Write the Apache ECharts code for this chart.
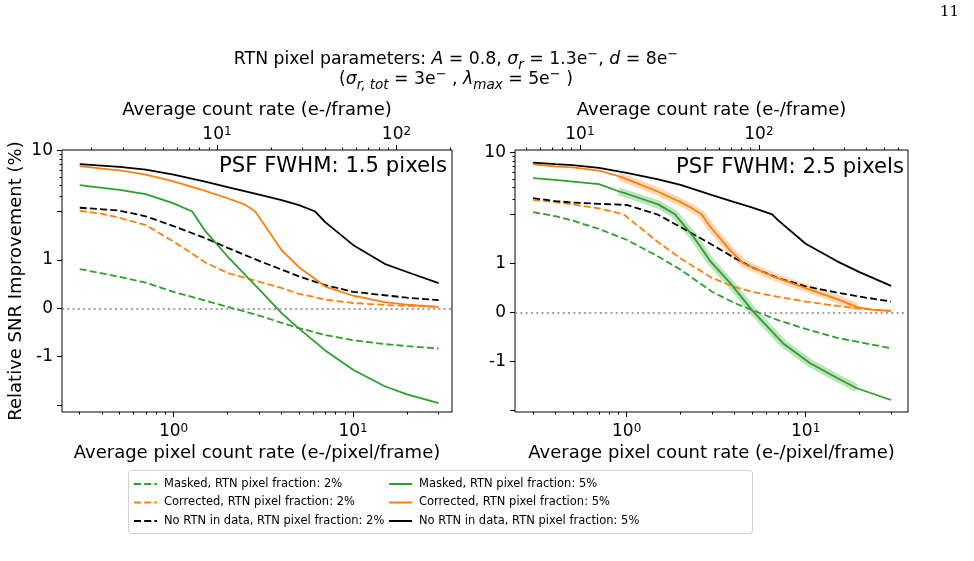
<!DOCTYPE html>
<html>
<head>
<meta charset="utf-8">
<title>RTN pixel parameters</title>
<script src="https://cdn.jsdelivr.net/npm/echarts@6.0.0/dist/echarts.min.js"></script>
<style>
  html, body { margin: 0; padding: 0; background: #fff; }
  #chart { width: 974px; height: 561px; }
</style>
</head>
<body>
<div id="chart"></div>
<script>
// [pixel count rate (e-/pixel/frame), relative SNR improvement (%)]
// left panel: PSF FWHM 1.5 pixels
const left_masked_2 = [[0.3, 0.81], [0.4, 0.72], [0.5, 0.65], [0.7, 0.53], [1, 0.34], [1.5, 0.16], [2, 0.03], [3, -0.15], [4, -0.3], [5, -0.41], [7, -0.55], [10, -0.66], [15, -0.74], [20, -0.78], [30, -0.83]];
const left_corr_2 = [[0.3, 2.04], [0.4, 1.95], [0.5, 1.87], [0.7, 1.72], [1, 1.38], [1.5, 0.95], [2, 0.73], [3, 0.55], [4, 0.42], [5, 0.3], [7, 0.18], [10, 0.11], [15, 0.07], [20, 0.05], [30, 0.03]];
const left_nortn_2 = [[0.3, 2.21], [0.4, 2.12], [0.5, 2.05], [0.7, 1.9], [1, 1.7], [1.5, 1.45], [2, 1.25], [3, 0.98], [4, 0.8], [5, 0.66], [7, 0.48], [10, 0.34], [15, 0.27], [20, 0.22], [30, 0.17]];
const left_masked_5 = [[0.3, 4.03], [0.4, 3.74], [0.5, 3.54], [0.7, 3.17], [1, 2.48], [1.27, 2.0], [1.5, 1.6], [2, 1.07], [3, 0.39], [4, -0.1], [5, -0.42], [7, -0.87], [10, -1.27], [15, -1.61], [20, -1.78], [30, -1.96]];
const left_corr_5 = [[0.3, 6.65], [0.4, 6.2], [0.5, 5.95], [0.7, 5.3], [1, 4.45], [1.5, 3.46], [2, 2.84], [2.5, 2.4], [2.85, 2.0], [3, 1.88], [4, 1.2], [5, 0.85], [7, 0.45], [10, 0.26], [15, 0.13], [20, 0.075], [30, 0.03]];
const left_nortn_5 = [[0.3, 7.0], [0.5, 6.52], [0.7, 6.05], [1, 5.3], [1.5, 4.4], [2, 3.82], [3, 3.13], [4, 2.71], [5, 2.37], [6.16, 2.0], [7, 1.78], [10, 1.31], [15, 0.92], [20, 0.75], [30, 0.52]];
// right panel: PSF FWHM 2.5 pixels
const right_masked_2 = [[0.3, 2.12], [0.4, 1.96], [0.5, 1.87], [0.7, 1.7], [1, 1.48], [1.5, 1.14], [2, 0.87], [3, 0.42], [4, 0.19], [5, 0.05], [7, -0.16], [10, -0.34], [15, -0.52], [20, -0.61], [30, -0.735]];
const right_corr_2 = [[0.3, 2.9], [0.4, 2.75], [0.5, 2.58], [0.7, 2.33], [0.96, 2.0], [1.5, 1.43], [2, 1.1], [3, 0.7], [4, 0.52], [5, 0.42], [7, 0.315], [10, 0.22], [15, 0.13], [20, 0.075], [30, 0.027]];
const right_nortn_2 = [[0.3, 3.05], [0.4, 2.82], [0.5, 2.72], [0.7, 2.63], [1, 2.55], [1.48, 2.0], [2, 1.74], [3, 1.38], [4, 1.11], [5, 0.92], [7, 0.7], [10, 0.53], [15, 0.4], [20, 0.32], [30, 0.22]];
const right_masked_5 = [[0.3, 5.15], [0.4, 4.9], [0.5, 4.7], [0.7, 4.4], [0.9, 3.65], [1, 3.42], [1.5, 2.59], [1.86, 2.0], [2.35, 1.55], [2.92, 1.05], [3.78, 0.6], [5.08, 0.02], [7.46, -0.63], [10.6, -1.04], [15, -1.34], [19.3, -1.55], [30, -1.79]];
const right_corr_5 = [[0.3, 7.35], [0.4, 7.0], [0.5, 6.8], [0.7, 6.25], [0.9, 5.4], [1, 5.0], [1.5, 3.6], [2, 2.75], [2.3, 2.36], [2.62, 2.0], [2.92, 1.75], [3.78, 1.27], [4.48, 1.0], [6.59, 0.73], [10.1, 0.49], [15.5, 0.25], [19.2, 0.11], [23.9, 0.05], [30, 0.03]];
const right_nortn_5 = [[0.3, 7.7], [0.4, 7.4], [0.5, 7.2], [0.7, 6.7], [1, 5.9], [1.5, 4.97], [2, 4.3], [3, 3.3], [4, 2.75], [5, 2.39], [6.5, 2.0], [7, 1.88], [10, 1.4], [15, 1.04], [20, 0.82], [30, 0.54]];
// range of the shaded uncertainty band (right panel, 5% curves)
const bandRange = [0.9, 19.3];

const seriesNames = [
  'Masked, RTN pixel fraction: 2%',
  'Corrected, RTN pixel fraction: 2%',
  'No RTN in data, RTN pixel fraction: 2%',
  'Masked, RTN pixel fraction: 5%',
  'Corrected, RTN pixel fraction: 5%',
  'No RTN in data, RTN pixel fraction: 5%'
];
const panelTitles = ['PSF FWHM: 1.5 pixels', 'PSF FWHM: 2.5 pixels'];
const xLimits = [[0.239, 35.6], [0.2377, 37.3]];
const yLimits = [[-2.40, 10.17], [-2.09, 10.71]];
const topFactors = [5.727, 18.25];   // (e-/frame) per (e-/pixel/frame)
const yMajorTicks = [-2, -1, 0, 1, 2, 10];
const yTickLabels = [-1, 0, 1, 10];
const yMinorTicks = [3, 4, 5, 6, 7, 8, 9];

const F = 'DejaVu Sans';
const GREEN = '#2ca02c', ORANGE = '#ff7f0e', BLACK = '#000000';
const DASH = [7, 3.2];

// matplotlib symlog, linthresh 2, linscale 1
const LINTHRESH = 2, LOGSCALE = 1.8;
const symlog = v => {
  const a = Math.abs(v);
  return a <= LINTHRESH ? v : Math.sign(v) * (LINTHRESH + LOGSCALE * Math.log10(a / LINTHRESH));
};
const unsymlog = t => {
  const a = Math.abs(t);
  return a <= LINTHRESH ? t : Math.sign(t) * LINTHRESH * Math.pow(10, (a - LINTHRESH) / LOGSCALE);
};

const grids = [
  { left: 62, top: 150, width: 390, height: 262 },
  { left: 515, top: 150, width: 393, height: 262 }
].map(g => Object.assign(g, { show: true, borderColor: '#000', borderWidth: 1, backgroundColor: 'transparent' }));

const inRange = (v, lo, hi) => v >= lo - 1e-9 && v <= hi + 1e-9;
const decadeTicks = (lo, hi) => [-1, 0, 1, 2, 3].filter(d => inRange(d, lo, hi));
const minorLogTicks = (lo, hi) => {
  const out = [];
  [-1, 0, 1, 2].forEach(d => { for (let k = 2; k <= 9; k++) out.push(d + Math.log10(k)); });
  return out.filter(v => inRange(v, lo, hi));
};

const supRich = {
  b: { fontFamily: F, fontSize: 17, color: '#000', lineHeight: 21, verticalAlign: 'bottom' },
  s: { fontFamily: F, fontSize: 12, color: '#000', lineHeight: 21, verticalAlign: 'bottom', padding: [0, 0, 5, 0] }
};
const powLabel = v => '{b|10}{s|' + Math.round(v) + '}';
const nameStyle = { fontFamily: F, fontSize: 18, color: '#000' };
const tickLine = { color: '#000', width: 1 };

const xAxes = [], yAxes = [];
[0, 1].forEach(gi => {
  const lo = Math.log10(xLimits[gi][0]), hi = Math.log10(xLimits[gi][1]);
  const sh = Math.log10(topFactors[gi]);
  const base = () => ({ gridIndex: gi, type: 'value', axisLine: { show: false, onZero: false }, splitLine: { show: false } });
  xAxes.push(Object.assign(base(), {
    position: 'bottom', min: lo, max: hi,
    axisTick: { length: 5, customValues: decadeTicks(lo, hi), lineStyle: tickLine },
    axisLabel: { customValues: decadeTicks(lo, hi), formatter: powLabel, rich: supRich, margin: 7 },
    name: 'Average pixel count rate (e-/pixel/frame)', nameLocation: 'middle', nameGap: 32, nameTextStyle: nameStyle
  }));
  xAxes.push(Object.assign(base(), {
    position: 'bottom', min: lo, max: hi,
    axisTick: { length: 2.5, customValues: minorLogTicks(lo, hi), lineStyle: tickLine },
    axisLabel: { show: false }
  }));
  xAxes.push(Object.assign(base(), {
    position: 'top', min: lo + sh, max: hi + sh,
    axisTick: { length: 5, customValues: decadeTicks(lo + sh, hi + sh), lineStyle: tickLine },
    axisLabel: { customValues: decadeTicks(lo + sh, hi + sh), formatter: powLabel, rich: supRich, margin: 7 },
    name: 'Average count rate (e-/frame)', nameLocation: 'middle', nameGap: 31, nameTextStyle: nameStyle
  }));
  xAxes.push(Object.assign(base(), {
    position: 'top', min: lo + sh, max: hi + sh,
    axisTick: { length: 2.5, customValues: minorLogTicks(lo + sh, hi + sh), lineStyle: tickLine },
    axisLabel: { show: false }
  }));

  const ylo = symlog(yLimits[gi][0]), yhi = symlog(yLimits[gi][1]);
  const yMain = Object.assign(base(), {
    position: 'left', min: ylo, max: yhi,
    axisTick: { length: 5, customValues: yMajorTicks.map(symlog), lineStyle: tickLine },
    axisLabel: {
      customValues: yTickLabels.map(symlog), margin: 9,
      formatter: v => String(Math.round(unsymlog(v))),
      fontFamily: F, fontSize: 17, color: '#000'
    }
  });
  if (gi === 0) {
    Object.assign(yMain, {
      name: 'Relative SNR Improvement (%)', nameLocation: 'middle', nameRotate: 90,
      nameGap: 37, nameTextStyle: nameStyle
    });
  }
  yAxes.push(yMain);
  yAxes.push(Object.assign(base(), {
    position: 'left', min: ylo, max: yhi,
    axisTick: { length: 2.5, customValues: yMinorTicks.map(symlog), lineStyle: tickLine },
    axisLabel: { show: false }
  }));
});

const toXY = pts => pts.map(([x, y]) => [Math.log10(x), symlog(y)]);

function curve(name, pts, gi, color, dashed) {
  return {
    name: name, type: 'line', xAxisIndex: gi * 4, yAxisIndex: gi * 2,
    data: toXY(pts), symbol: 'none', z: 3, clip: true,
    lineStyle: { color: color, width: 1.8, type: dashed ? DASH : 'solid', cap: 'butt' },
    itemStyle: { color: color }
  };
}
function band(pts, gi, color) {
  const sub = pts.filter(p => p[0] >= bandRange[0] && p[0] <= bandRange[1]);
  return {
    name: 'band', type: 'line', xAxisIndex: gi * 4, yAxisIndex: gi * 2,
    data: toXY(sub), symbol: 'none', z: 2, silent: true,
    lineStyle: { color: color, width: 8, opacity: 0.3, cap: 'butt', join: 'round' }
  };
}
function zeroLine(gi) {
  return {
    name: 'zero', type: 'line', xAxisIndex: gi * 4, yAxisIndex: gi * 2, data: [], z: 1,
    markLine: {
      silent: true, symbol: 'none', label: { show: false },
      lineStyle: { color: '#808080', type: [2, 3.3], width: 1.6 },
      data: [{ yAxis: 0 }]
    }
  };
}

const series = [
  zeroLine(0),
  curve(seriesNames[0], left_masked_2, 0, GREEN, true),
  curve(seriesNames[1], left_corr_2, 0, ORANGE, true),
  curve(seriesNames[2], left_nortn_2, 0, BLACK, true),
  curve(seriesNames[3], left_masked_5, 0, GREEN, false),
  curve(seriesNames[4], left_corr_5, 0, ORANGE, false),
  curve(seriesNames[5], left_nortn_5, 0, BLACK, false),
  zeroLine(1),
  band(right_masked_5, 1, GREEN),
  band(right_corr_5, 1, ORANGE),
  curve(seriesNames[0], right_masked_2, 1, GREEN, true),
  curve(seriesNames[1], right_corr_2, 1, ORANGE, true),
  curve(seriesNames[2], right_nortn_2, 1, BLACK, true),
  curve(seriesNames[3], right_masked_5, 1, GREEN, false),
  curve(seriesNames[4], right_corr_5, 1, ORANGE, false),
  curve(seriesNames[5], right_nortn_5, 1, BLACK, false)
];

const TS = 17.3;
const titleRich = {
  i: { fontFamily: F, fontSize: TS, fontStyle: 'italic', color: '#000', lineHeight: 24 },
  sub: { fontFamily: F, fontSize: 13.5, fontStyle: 'italic', color: '#000', lineHeight: 15, verticalAlign: 'bottom' },
  sup: { fontFamily: F, fontSize: 13, color: '#000', lineHeight: 14, verticalAlign: 'top' }
};
const titleText = { fontFamily: F, fontSize: TS, fontWeight: 'normal', color: '#000', lineHeight: 24, rich: titleRich };
const psfText = { fontFamily: F, fontSize: 21.2, fontWeight: 'normal', color: '#000', lineHeight: 24 };

const legendBase = {
  orient: 'vertical', top: 477, padding: 0, itemWidth: 23, itemHeight: 14, itemGap: 4.5,
  selectedMode: false, itemStyle: { opacity: 0 },
  textStyle: { fontFamily: F, fontSize: 11.5, color: '#000', lineHeight: 14, padding: [0, 0, 0, 2] }
};

const chart = echarts.init(document.getElementById('chart'), null, { renderer: 'canvas' });
chart.setOption({
  animation: false,
  backgroundColor: '#fff',
  title: [
    { text: '11', left: 940, top: 5, padding: 0, textStyle: { fontFamily: 'DejaVu Serif', fontSize: 15, fontWeight: 'normal', color: '#000' } },
    { text: 'RTN pixel parameters: {i|A} = 0.8, {i|σ}{sub|r} = 1.3e{sup|−}, {i|d} = 8e{sup|−}', left: 456, textAlign: 'center', top: 48, padding: 0, textStyle: titleText },
    { text: '({i|σ}{sub|r, tot} = 3e{sup|−} , {i|λ}{sub|max} = 5e{sup|−} )', left: 456, textAlign: 'center', top: 68, padding: 0, textStyle: titleText },
    { text: panelTitles[0], right: 527, top: 154, padding: 0, textStyle: psfText },
    { text: panelTitles[1], right: 70, top: 155, padding: 0, textStyle: psfText }
  ],
  grid: grids,
  xAxis: xAxes,
  yAxis: yAxes,
  legend: [
    Object.assign({}, legendBase, { left: 133, data: seriesNames.slice(0, 3) }),
    Object.assign({}, legendBase, { left: 388, data: seriesNames.slice(3) })
  ],
  graphic: [{
    type: 'rect', left: 128, top: 470, z: -1, silent: true,
    shape: { width: 624, height: 63, r: 3 },
    style: { fill: '#fff', stroke: '#d0d0d0', lineWidth: 1 }
  }],
  series: series
});
</script>
</body>
</html>
